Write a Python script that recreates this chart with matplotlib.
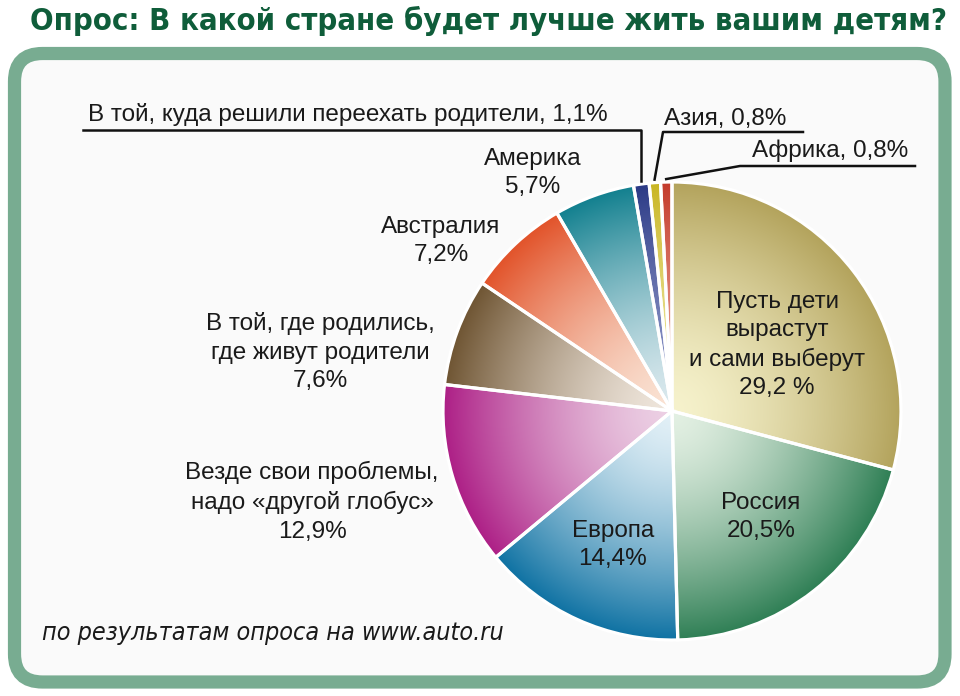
import numpy as np
import matplotlib
matplotlib.use("Agg")
import matplotlib.pyplot as plt
from matplotlib.patches import FancyBboxPatch

# ---- data ----
labels = [
    "Пусть дети\nвырастут\nи сами выберут\n29,2 %",
    "Россия\n20,5%",
    "Европа\n14,4%",
    "Везде свои проблемы,\nнадо «другой глобус»\n12,9%",
    "В той, где родились,\nгде живут родители\n7,6%",
    "Австралия\n7,2%",
    "Америка\n5,7%",
    "В той, куда решили переехать родители, 1,1%",
    "Азия, 0,8%",
    "Африка, 0,8%",
]
values = [29.2, 20.5, 14.4, 12.9, 7.6, 7.2, 5.7, 1.1, 0.8, 0.8]
rim_colors = ["#b3a35c", "#2f7f55", "#0f72a3", "#ad1f86", "#6f5533",
              "#e2532a", "#12808f", "#2b3a86", "#c9b624", "#c43b2c"]
inner_colors = ["#f6f2cc", "#e3f0e3", "#e2f0f7", "#ecd0e4", "#efe6dc",
                "#fae3d4", "#dbe9ee", "#8e97c8", "#eee6a0", "#e8a090"]

title = "Опрос: В какой стране будет лучше жить вашим детям?"
source = "по результатам опроса на www.auto.ru"

W, H = 960, 696
fig = plt.figure(figsize=(W / 100, H / 100), dpi=100)
ax = fig.add_axes([0, 0, 1, 1])


def Y(y):
    # picture rows run downwards, axes y runs upwards
    return H - y


# frame
frame = FancyBboxPatch((14.5, Y(682)), 930.5, 628.5,
                       boxstyle="round,pad=0,rounding_size=28",
                       facecolor="#fafafa", edgecolor="#78ac91",
                       linewidth=9.5, zorder=0)
ax.add_patch(frame)

# pie
cx, cy, R = 672, Y(411), 229
wedges, _ = ax.pie(values, startangle=90, counterclock=False,
                   center=(cx, cy), radius=R, colors=rim_colors,
                   wedgeprops=dict(edgecolor="white", linewidth=2.3))

# radial gradient inside every wedge
n = 400
gx, gy = np.meshgrid(np.linspace(-1, 1, n), np.linspace(-1, 1, n))
r = np.clip(np.hypot(gx, gy), 0, 1) ** 1.5
for w, c0, c1 in zip(wedges, inner_colors, rim_colors):
    a = np.array(matplotlib.colors.to_rgb(c0))
    b = np.array(matplotlib.colors.to_rgb(c1))
    img = a + (b - a) * r[..., None]
    im = ax.imshow(img, extent=(cx - R, cx + R, cy - R, cy + R),
                   origin="lower", interpolation="bilinear", zorder=1)
    im.set_clip_path(w)
    w.set_facecolor("none")
    w.set_zorder(2)

txt = dict(fontsize=17.5, family="Liberation Sans", color="#1a1a1a",
           ha="center", va="center", linespacing=1.38)

# labels inside / beside the pie
ax.text(777, Y(345), labels[0], **txt)
ax.text(761, Y(517), labels[1], **txt)
ax.text(613, Y(545), labels[2], **txt)
ax.text(312, Y(502), labels[3], **txt)
ax.text(320, Y(352), labels[4], **txt)
ax.text(441, Y(241), labels[5], **txt)
ax.text(533, Y(173), labels[6], **txt)

# small slices: text with underline and leader to the rim
def rim_point(w, rr=R + 3):
    th = np.deg2rad((w.theta1 + w.theta2) / 2)
    return cx + rr * np.cos(th), cy + rr * np.sin(th)

lk = dict(color="#111111", linewidth=1.8, zorder=3)

ax.text(88, Y(114), labels[7], **dict(txt, ha="left"))
px, py = rim_point(wedges[7])
ax.plot([83, px, px], [Y(130), Y(130), py], **lk)

ax.text(664, Y(119), labels[8], **dict(txt, ha="left"))
px, py = rim_point(wedges[8])
ax.plot([803, 663, px], [Y(132), Y(132), py], **lk)

ax.text(752, Y(151), labels[9], **dict(txt, ha="left"))
px, py = rim_point(wedges[9])
ax.plot([915, 740, px], [Y(166), Y(166), py], **lk)

# title and source
ax.text(488, Y(21), title, fontsize=22.2, fontweight="bold",
        family="DejaVu Sans", stretch="condensed", color="#0f5d3a",
        ha="center", va="center")
ax.text(42, Y(633), source, fontsize=18, style="italic",
        family="DejaVu Sans", stretch="condensed", color="#1a1a1a",
        ha="left", va="center")

ax.set_xlim(0, W)
ax.set_ylim(0, H)
ax.set_aspect("auto")
ax.axis("off")

fig.savefig("out.png", dpi=100, facecolor="white")
